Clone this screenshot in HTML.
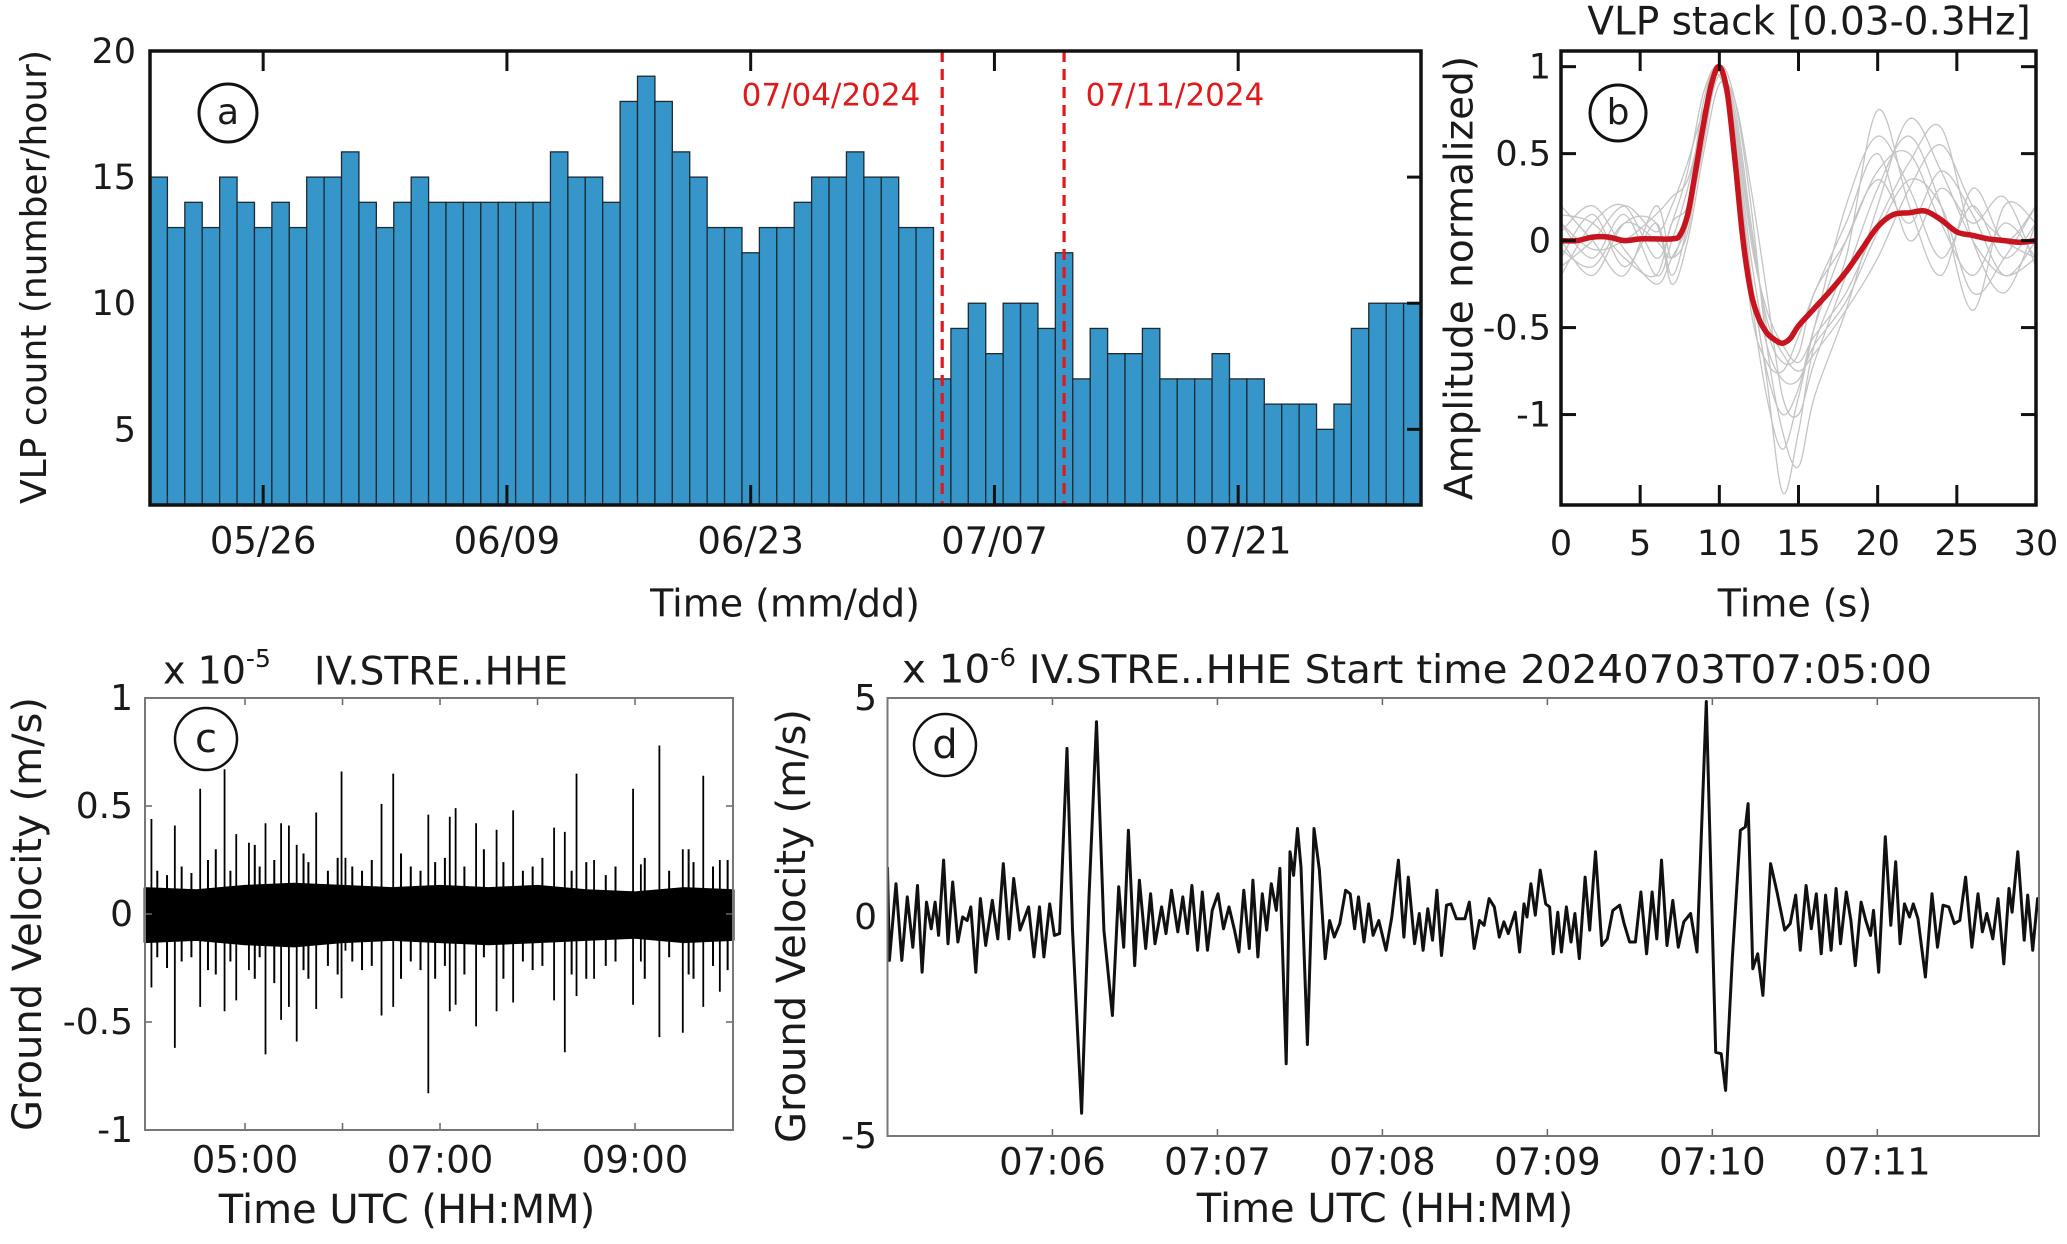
<!DOCTYPE html>
<html><head><meta charset="utf-8"><style>
html,body{margin:0;padding:0;background:#fff;}
svg{display:block;}
text{font-family:"DejaVu Sans","Liberation Sans",sans-serif;fill:#1a1a1a;}
</style></head><body>
<svg id="fig" xmlns="http://www.w3.org/2000/svg" width="2067" height="1244" viewBox="0 0 2067 1244">
<rect x="0" y="0" width="2067" height="1244" fill="#fff"/>
<g id="pa"></g>
<g id="pb"></g>
<g id="pc"></g>
<g id="pd"></g>

<text x="36" y="277" font-size="36" text-anchor="middle" dominant-baseline="middle" transform="rotate(-90 36 277)">VLP  count (number/hour)</text>
<text x="785" y="606" font-size="38" text-anchor="middle" dominant-baseline="middle">Time  (mm/dd)</text>
<text x="831" y="97" font-size="31" fill="#e0191b" style="fill:#e0191b" text-anchor="middle" dominant-baseline="middle">07/04/2024</text>
<text x="1175" y="97" font-size="31" fill="#e0191b" style="fill:#e0191b" text-anchor="middle" dominant-baseline="middle">07/11/2024</text>
<circle cx="228" cy="113" r="29" fill="none" stroke="#111" stroke-width="3"/>
<text x="228" y="114" font-size="36" text-anchor="middle" dominant-baseline="middle">a</text>

<text x="1809" y="24" font-size="39" text-anchor="middle" dominant-baseline="middle">VLP stack  [0.03-0.3Hz]</text>
<text x="1462" y="278" font-size="39" text-anchor="middle" dominant-baseline="middle" transform="rotate(-90 1462 278)">Amplitude normalized)</text>
<text x="1795" y="606" font-size="38" text-anchor="middle" dominant-baseline="middle">Time  (s)</text>
<circle cx="1618" cy="113" r="28" fill="none" stroke="#111" stroke-width="3"/>
<text x="1618" y="114" font-size="36" text-anchor="middle" dominant-baseline="middle">b</text>

<text x="163" y="673" font-size="38" dominant-baseline="middle">x 10<tspan font-size="25" dy="-13">-5</tspan></text>
<text x="441" y="674" font-size="39" text-anchor="middle" dominant-baseline="middle">IV.STRE..HHE</text>
<text x="30" y="914" font-size="40" text-anchor="middle" dominant-baseline="middle" transform="rotate(-90 30 914)">Ground Velocity (m/s)</text>
<text x="407" y="1212" font-size="40" text-anchor="middle" dominant-baseline="middle">Time UTC (HH:MM)</text>
<circle cx="206" cy="739" r="31" fill="none" stroke="#111" stroke-width="2.5"/>
<text x="206" y="741" font-size="40" text-anchor="middle" dominant-baseline="middle">c</text>

<text x="902" y="672" font-size="39" dominant-baseline="middle" textLength="1030" lengthAdjust="spacingAndGlyphs">x 10<tspan font-size="25" dy="-13">-6</tspan><tspan dy="13"> IV.STRE..HHE Start time 20240703T07:05:00</tspan></text>
<text x="794" y="926" font-size="40" text-anchor="middle" dominant-baseline="middle" transform="rotate(-90 794 926)">Ground Velocity (m/s)</text>
<text x="1385" y="1211" font-size="40" text-anchor="middle" dominant-baseline="middle">Time UTC (HH:MM)</text>
<circle cx="945" cy="745" r="31" fill="none" stroke="#111" stroke-width="2.5"/>
<text x="945" y="747" font-size="40" text-anchor="middle" dominant-baseline="middle">d</text>
</svg>
<script>
// ---------- Panel a data ----------
const aCounts = [15,13,14,13,15,14,13,14,13,15,15,16,14,13,14,15,14,14,14,14,14,14,14,16,15,15,14,18,19,18,16,15,13,13,12,13,13,14,15,15,16,15,15,13,13,7,9,10,8,10,10,9,12,7,9,8,8,9,7,7,7,8,7,7,6,6,6,5,6,9,10,10,10];
const aTickDays = [6,20,34,48,62];
const aTickLabels = ["05/26","06/09","06/23","07/07","07/21"];
const aYTicks = [5,10,15,20];
const aEventDays = [45,52];
// ---------- Panel b data ----------
const bStackT = [0,1,2,3,4,5,6,7,7.5,8,8.5,9,9.5,10,10.5,11,11.5,12,12.5,13,13.5,14,14.5,15,16,17,18,19,20,21,22,23,24,25,26,27,28,29,30];
const bStackV = [0,0,0.02,0.02,0.0,0.01,0.01,0.01,0.03,0.15,0.4,0.67,0.9,1.0,0.85,0.45,0.0,-0.3,-0.45,-0.53,-0.57,-0.59,-0.56,-0.49,-0.39,-0.29,-0.18,-0.05,0.08,0.15,0.16,0.17,0.12,0.05,0.03,0.01,0.0,-0.01,0.0];
const bTraceT = [0,2,4,6,7,8,9,10,11,12,13,14,15,16,18,20,22,24,26,28,30];
const bTrace1 = [0.1,-0.1,0.15,-0.2,0.0,0.3,0.7,1.0,0.6,-0.3,-0.9,-1.2,-0.9,-0.5,0.2,0.6,0.3,-0.1,0.2,-0.1,0.1];
const bTrace2 = [-0.1,0.15,-0.15,0.1,-0.2,0.1,0.6,0.95,0.75,0.1,-0.5,-0.7,-0.65,-0.3,0.0,0.4,0.5,0.1,-0.2,0.1,-0.1];
const bTrace3 = [0.2,0.0,-0.2,0.2,-0.1,0.2,0.8,1.0,0.55,-0.2,-0.8,-1.45,-1.1,-0.6,-0.1,0.75,0.2,-0.2,0.3,0.0,0.2];
const bTrace4 = [-0.2,0.1,0.2,-0.1,0.1,0.4,0.85,1.0,0.7,0.0,-0.4,-0.6,-0.7,-0.55,-0.3,0.1,0.45,0.65,0.0,-0.3,0.1];
const bTrace5 = [0.0,-0.2,0.1,0.1,-0.25,0.0,0.5,0.9,0.8,0.3,-0.3,-0.9,-1.0,-0.7,-0.2,0.3,0.6,0.2,-0.4,0.2,0.1];
const bTrace6 = [0.15,0.1,-0.1,-0.2,0.1,0.2,0.6,1.0,0.8,0.2,-0.6,-1.1,-1.3,-0.9,-0.4,0.2,0.7,0.4,0.0,-0.2,-0.1];
const bTrace7 = [-0.15,0.0,0.2,0.05,0.2,0.45,0.75,0.95,0.5,-0.4,-0.7,-0.75,-0.55,-0.3,0.1,0.5,0.0,0.3,0.1,0.25,-0.15];
const bTrace8 = [0.05,0.2,-0.05,-0.25,-0.1,0.1,0.55,1.0,0.65,-0.1,-0.6,-0.8,-0.8,-0.6,-0.35,0.05,0.35,0.2,-0.3,-0.1,0.2];
const bTrace9 = [0.1,-0.05,0.0,0.15,0.25,0.35,0.7,1.0,0.6,-0.2,-0.75,-1.0,-0.85,-0.5,0.0,0.35,0.1,0.4,0.15,-0.2,0.0];
const bTrace10 = [-0.05,-0.15,0.1,0.0,-0.1,0.05,0.6,0.98,0.7,0.05,-0.45,-0.65,-0.75,-0.65,-0.4,-0.1,0.3,0.55,0.2,0.0,-0.1];
const bXTicks = [0,5,10,15,20,25,30];
const bYTicks = [1,0.5,0,-0.5,-1];
const bYTickLabels = ["1","0.5","0","-0.5","-1"];
// ---------- Panel c data ----------
const cEnvT = [3.97,4.5,5,5.5,6,6.5,7,7.5,8,8.5,9,9.5,10.01];
const cEnvUp = [0.12,0.11,0.13,0.14,0.13,0.12,0.13,0.12,0.13,0.11,0.10,0.12,0.11];
const cEnvLo = [-0.13,-0.12,-0.14,-0.15,-0.13,-0.12,-0.13,-0.14,-0.13,-0.12,-0.11,-0.13,-0.12];
const cSpikeT = [4.04,4.28,4.54,4.79,4.91,5.04,5.21,5.37,5.45,5.53,5.73,5.99,6.03,6.40,6.52,6.88,7.10,7.16,7.37,7.58,7.75,8.17,8.28,8.40,8.58,8.98,9.06,9.25,9.49,9.70,9.87];
const cSpikeUp = [0.44,0.41,0.58,0.67,0.37,0.33,0.42,0.42,0.41,0.32,0.47,0.66,0.26,0.51,0.65,0.46,0.45,0.49,0.42,0.39,0.48,0.40,0.38,0.65,0.25,0.58,0.23,0.78,0.30,0.64,0.25];
const cSpikeDown = [-0.34,-0.62,-0.43,-0.45,-0.40,-0.26,-0.65,-0.49,-0.43,-0.59,-0.44,-0.39,-0.17,-0.47,-0.43,-0.83,-0.45,-0.42,-0.52,-0.45,-0.41,-0.40,-0.64,-0.38,-0.30,-0.42,-0.22,-0.57,-0.55,-0.43,-0.36];
const cMinorT = [4.1,4.2,4.35,4.45,4.62,4.7,4.85,5.1,5.15,5.3,5.6,5.65,5.85,5.95,6.1,6.2,6.3,6.6,6.7,6.8,6.95,7.05,7.25,7.45,7.65,7.85,7.95,8.05,8.35,8.5,8.7,8.8,9.1,9.35,9.55,9.6,9.8,9.95];
const cMinorUp = [0.2,0.18,0.22,0.19,0.25,0.3,0.2,0.32,0.22,0.25,0.28,0.24,0.2,0.26,0.22,0.2,0.25,0.28,0.22,0.2,0.24,0.26,0.22,0.3,0.24,0.2,0.22,0.26,0.2,0.24,0.18,0.22,0.26,0.2,0.3,0.24,0.22,0.25];
const cMinorDown = [-0.2,-0.25,-0.22,-0.2,-0.26,-0.28,-0.22,-0.3,-0.2,-0.32,-0.26,-0.3,-0.24,-0.28,-0.22,-0.26,-0.24,-0.3,-0.22,-0.26,-0.3,-0.24,-0.28,-0.2,-0.3,-0.22,-0.26,-0.24,-0.28,-0.3,-0.24,-0.22,-0.3,-0.2,-0.28,-0.3,-0.24,-0.26];
const cXTicks = [5,6,7,8,9];
const cXLabels = {5:"05:00",7:"07:00",9:"09:00"};
const cYTicks = [1,0.5,0,-0.5,-1];
const cYLabels = ["1","0.5","0","-0.5","-1"];
// ---------- Panel d data (seconds after 07:05:00, x1e-6 m/s) ----------
const dT = [0,0.7,3.1,5.2,7.2,9.2,10.9,12.6,14.2,15.9,17.3,18.6,20.4,22.0,23.7,25.6,27.3,29.0,30.3,32.1,33.8,35.7,38.1,40.1,42.1,44.2,45.9,48.2,51.3,53.3,55.3,56.9,59.0,60.7,62.6,65.3,67.3,70.6,73.3,76.0,78.7,81.8,84.1,85.9,87.6,89.9,91.6,93.9,95.7,97.3,99.7,101.3,103.3,105.6,107.4,109.1,110.7,112.8,114.5,116.4,118.1,120.2,122.2,124.2,126.2,127.8,129.6,131.6,132.9,134.7,136.3,137.9,139.6,141.4,142.7,145.0,146.4,147.7,149.1,150.4,152.7,155.1,157.1,159.2,160.8,162.5,164.5,166.6,168.3,169.9,171.3,173.3,175.0,176.6,178.7,181.3,183.4,185.8,187.8,189.4,191.7,193.4,194.8,196.5,198.2,199.8,201.5,203.3,204.9,206.9,210.0,211.6,213.4,215.3,217.0,218.8,220.7,222.5,224.2,225.8,228.3,229.9,231.5,232.6,234.0,235.6,237.4,239.4,240.8,242.1,243.8,245.1,246.9,248.6,250.0,251.6,253.7,255.4,257.5,259.8,261.8,263.8,266.3,267.9,269.9,272.0,274.0,276.1,278.1,279.8,281.5,283.5,285.6,287.6,289.6,292.1,294.4,297.8,301.2,303.2,304.8,307.3,310.2,312.0,313.0,314.7,316.5,318.4,321.2,323.5,326.3,328.3,330.3,332.0,334.1,336.0,337.8,339.6,341.2,343.2,345.0,346.6,348.7,350.4,352.0,354.1,355.8,357.5,358.6,360.5,362.9,364.9,366.7,368.3,369.9,371.7,373.1,374.8,377.5,379.9,381.9,383.9,386.0,388.0,390.0,392.1,394.4,396.6,398.2,399.8,402.0,403.9,406.0,407.9,409.0,411.1,413.4,414.7,416.5,418.3,420.6];
const dV = [1.14,-0.99,0.76,-0.99,0.46,-0.69,0.72,-1.26,0.34,-0.27,0.34,-0.42,1.30,-0.61,0.80,-0.57,0,-0.08,0.23,-1.26,0.42,-0.65,0.38,-0.50,1.22,-0.50,0.88,-0.30,0.23,-0.91,0.23,-0.91,0.30,-0.42,-0.38,3.85,-0.30,-4.48,0.46,4.46,-0.30,-2.25,0.69,-0.69,1.98,-1.11,0.84,-0.72,0.53,-0.61,0.23,-0.38,0.61,-0.34,0.46,-0.38,0.72,-0.76,0.57,-0.76,0.15,0.53,-0.27,0.23,-0.30,-0.80,0.61,-0.72,0.84,-0.91,0.53,-0.30,0.76,0.15,1.11,-3.35,1.49,0.95,2.02,1.14,-2.91,2.02,1.07,-0.95,-0.08,-0.46,-0.15,0.61,0.53,-0.27,0.46,-0.57,0.30,-0.42,-0.08,-0.76,0,1.30,-0.46,0.91,-0.61,0.08,-0.76,0.19,-0.53,0.61,-0.88,0.27,0.30,-0.04,-0.04,0.34,-0.72,-0.08,-0.19,0.42,0.23,-0.46,-0.11,-0.38,0.11,-0.80,0.30,0,0.76,0.04,1.07,0.30,0.23,-0.84,0.11,-0.80,0.23,-0.57,0.08,-0.95,0.91,-0.30,1.49,-0.65,-0.50,0.15,0.27,-0.15,-0.57,-0.57,0.57,-0.84,0.57,-0.50,1.30,-0.65,0.38,-0.69,-0.11,0.08,-0.80,4.92,-3.09,-3.12,-3.96,-0.91,1.98,2.06,2.59,-1.18,-0.84,-1.79,1.22,0.57,-0.30,-0.15,0.50,-0.76,0.72,-0.27,0.53,-0.84,0.50,-0.76,0.65,-0.61,0.57,-0.08,-1.11,0.34,-0.08,-0.42,0.15,-1.26,1.83,-0.19,1.26,-0.61,0.30,0,0.30,-0.04,-1.37,0.53,-0.69,0.27,0.23,-0.15,-0.08,0.91,-0.69,0.53,-0.34,0.08,-0.50,0.42,-1.07,0.65,0.11,1.49,-0.53,0.50,-0.76,0.42,-0.08];
const dXTicks = [1,2,3,4,5,6];
const dXLabels = ["07:06","07:07","07:08","07:09","07:10","07:11"];
const dYTicks = [5,0,-5];
const dYLabels = ["5","0","-5"];

const NS = "http://www.w3.org/2000/svg";
function mk(tag, parent){ const e=document.createElementNS(NS,tag); parent.appendChild(e); return e; }
function lin(d0,d1,r0,r1){ return v => r0 + (v-d0)/(d1-d0)*(r1-r0); }
function smooth(pts){
  let d="M"+pts[0][0].toFixed(1)+","+pts[0][1].toFixed(1);
  for(let i=0;i<pts.length-1;i++){
    const p0=pts[Math.max(0,i-1)],p1=pts[i],p2=pts[i+1],p3=pts[Math.min(pts.length-1,i+2)];
    const c1x=p1[0]+(p2[0]-p0[0])/6,c1y=p1[1]+(p2[1]-p0[1])/6;
    const c2x=p2[0]-(p3[0]-p1[0])/6,c2y=p2[1]-(p3[1]-p1[1])/6;
    d+=" C"+c1x.toFixed(1)+","+c1y.toFixed(1)+" "+c2x.toFixed(1)+","+c2y.toFixed(1)+" "+p2[0].toFixed(1)+","+p2[1].toFixed(1);
  }
  return d;
}
function tick(parent,x1,y1,x2,y2,w,col){
  const l=mk('line',parent);
  l.setAttribute('x1',x1);l.setAttribute('y1',y1);l.setAttribute('x2',x2);l.setAttribute('y2',y2);
  l.setAttribute('stroke',col);l.setAttribute('stroke-width',w);
  return l;
}
function label(parent,x,y,s,size,anchor){
  const t=mk('text',parent);
  t.setAttribute('x',x);t.setAttribute('y',y);t.setAttribute('font-size',size);
  t.setAttribute('text-anchor',anchor);t.setAttribute('dominant-baseline','middle');
  t.textContent=s;
  return t;
}

// ===== Panel a =====
(function(){
  const g=document.getElementById('pa');
  const L=150,R=1421,T=51,B=505;
  const x=lin(-0.5,aCounts.length-0.5,L,R), y=lin(2,20,B,T);
  const bw=x(1)-x(0);
  aCounts.forEach((v,i)=>{
    const r=mk('rect',g);
    
    
    r.setAttribute('x',x(i)-bw/2);r.setAttribute('width',bw);
    r.setAttribute('y',y(v));r.setAttribute('height',y(2)-y(v));
    r.setAttribute('fill','#3796c9');r.setAttribute('stroke','#1b2a33');r.setAttribute('stroke-width','1.3');
  });
  aEventDays.forEach((d,i)=>{
    const l=tick(g,x(d),T,x(d),B,3.2,'#e0191b');
    l.setAttribute('stroke-dasharray','11,7');
    
    
  });
  aTickDays.forEach((d,i)=>{
    const t1=tick(g,x(d),T,x(d),T+20,3,'#111');
    
    
    const t2=tick(g,x(d),B,x(d),B-20,3,'#111');
    
    
    const lb=label(g,x(d),543,aTickLabels[i],37,'middle');
    
    
  });
  aYTicks.forEach(v=>{
    const t1=tick(g,R,y(v),R-14,y(v),3,'#111');
    
    
    const lb=label(g,136,y(v)+2,String(v),35,'end');
    
    
  });
  const f=mk('rect',g);
  
  
  f.setAttribute('x',L);f.setAttribute('y',T);f.setAttribute('width',R-L);f.setAttribute('height',B-T);
  f.setAttribute('fill','none');f.setAttribute('stroke','#111');f.setAttribute('stroke-width','3.5');
})();

// ===== Panel b =====
(function(){
  const g=document.getElementById('pb');
  const L=1561,R=2036,T=51,B=505;
  const x=lin(0,30,L,R), y=lin(-1.52,1.09,B,T);
  [bTrace1,bTrace2,bTrace3,bTrace4,bTrace5,bTrace6,bTrace7,bTrace8,bTrace9,bTrace10].forEach((tr,k)=>{
    const p=mk('path',g);
    
    
    p.setAttribute('d',smooth(bTraceT.map((t,i)=>[x(t),y(tr[i])])));
    p.setAttribute('fill','none');p.setAttribute('stroke','#c4c4c4');p.setAttribute('stroke-width','1.3');
  });
  const s=mk('path',g);
  
  
  s.setAttribute('d',smooth(bStackT.map((t,i)=>[x(t),y(bStackV[i])])));
  s.setAttribute('fill','none');s.setAttribute('stroke','#c8141e');s.setAttribute('stroke-width','5.5');s.setAttribute('stroke-linejoin','round');
  bXTicks.forEach(v=>{
    const t1=tick(g,x(v),T,x(v),T+20,3,'#111');
    
    
    const t2=tick(g,x(v),B,x(v),B-20,3,'#111');
    
    
    const lb=label(g,x(v),545,String(v),35,'middle');
    
    
  });
  bYTicks.forEach((v,i)=>{
    const t1=tick(g,L,y(v),L+15,y(v),3,'#111');
    
    
    const t2=tick(g,R,y(v),R-15,y(v),3,'#111');
    
    
    const lb=label(g,1551,y(v)+2,bYTickLabels[i],35,'end');
    
    
  });
  const f=mk('rect',g);
  
  
  f.setAttribute('x',L);f.setAttribute('y',T);f.setAttribute('width',R-L);f.setAttribute('height',B-T);
  f.setAttribute('fill','none');f.setAttribute('stroke','#111');f.setAttribute('stroke-width','3.5');
})();

// ===== Panel c =====
(function(){
  const g=document.getElementById('pc');
  const L=145,R=733,T=698,B=1130;
  const x=lin(3.974,10.005,L,R), y=lin(-1,1,B,T);
  let pts=cEnvT.map((t,i)=>x(t).toFixed(1)+","+y(cEnvUp[i]).toFixed(1));
  for(let i=cEnvT.length-1;i>=0;i--) pts.push(x(cEnvT[i]).toFixed(1)+","+y(cEnvLo[i]).toFixed(1));
  const band=mk('polygon',g);
  
  
  band.setAttribute('points',pts.join(' '));
  band.setAttribute('fill','#000');band.setAttribute('stroke','#000');band.setAttribute('stroke-width','2');band.setAttribute('stroke-linejoin','round');
  const n=Math.min(cMinorT.length,cMinorUp.length,cMinorDown.length);
  for(let i=0;i<n;i++){
    const l=tick(g,x(cMinorT[i]),y(cMinorUp[i]),x(cMinorT[i]),y(cMinorDown[i]),2,'#000');
    
    
  }
  const m=Math.min(cSpikeT.length,cSpikeUp.length,cSpikeDown.length);
  for(let i=0;i<m;i++){
    const l=tick(g,x(cSpikeT[i]),y(cSpikeUp[i]),x(cSpikeT[i]),y(cSpikeDown[i]),1.8,'#000');
    
    
  }
  cXTicks.forEach(v=>{
    const t1=tick(g,x(v),T,x(v),T+7,1.5,'#666');
    
    
    const t2=tick(g,x(v),B,x(v),B-7,1.5,'#666');
    
    
    if(cXLabels[v]){
      const lb=label(g,x(v),1162,cXLabels[v],37,'middle');
      
      
    }
  });
  cYTicks.forEach((v,i)=>{
    const t1=tick(g,L,y(v),L+7,y(v),1.5,'#666');
    
    
    const t2=tick(g,R,y(v),R-7,y(v),1.5,'#666');
    
    
    const lb=label(g,133,y(v)+2,cYLabels[i],36,'end');
    
    
  });
  const f=mk('rect',g);
  
  
  f.setAttribute('x',L);f.setAttribute('y',T);f.setAttribute('width',R-L);f.setAttribute('height',B-T);
  f.setAttribute('fill','none');f.setAttribute('stroke','#777');f.setAttribute('stroke-width','2');
})();

// ===== Panel d =====
(function(){
  const g=document.getElementById('pd');
  const L=887.5,R=2039,T=698,B=1136;
  const x=lin(0,418.8,L,R), y=lin(-5,5,B,T);
  const cp=mk('clipPath',g); cp.setAttribute('id','clipd');
  const cr=mk('rect',cp); cr.setAttribute('x',L);cr.setAttribute('y',T-5);cr.setAttribute('width',R-L);cr.setAttribute('height',B-T+10);
  const p=mk('polyline',g);
  
  
  p.setAttribute('points',dT.map((t,i)=>x(t).toFixed(1)+","+y(dV[i]).toFixed(1)).join(' '));
  p.setAttribute('fill','none');p.setAttribute('stroke','#111');p.setAttribute('stroke-width','3');p.setAttribute('stroke-linejoin','round');
  p.setAttribute('clip-path','url(#clipd)');
  dXTicks.forEach((v,i)=>{
    const t1=tick(g,x(v*60),T,x(v*60),T+7,1.5,'#666');
    
    
    const t2=tick(g,x(v*60),B,x(v*60),B-7,1.5,'#666');
    
    
    const lb=label(g,x(v*60),1164,dXLabels[i],37,'middle');
    
    
  });
  dYTicks.forEach((v,i)=>{
    const lb=label(g,877,y(v)+2,dYLabels[i],36,'end');
    
    
  });
  const f=mk('rect',g);
  
  
  f.setAttribute('x',L);f.setAttribute('y',T);f.setAttribute('width',R-L);f.setAttribute('height',B-T);
  f.setAttribute('fill','none');f.setAttribute('stroke','#777');f.setAttribute('stroke-width','2');
})();
</script>
</body></html>
